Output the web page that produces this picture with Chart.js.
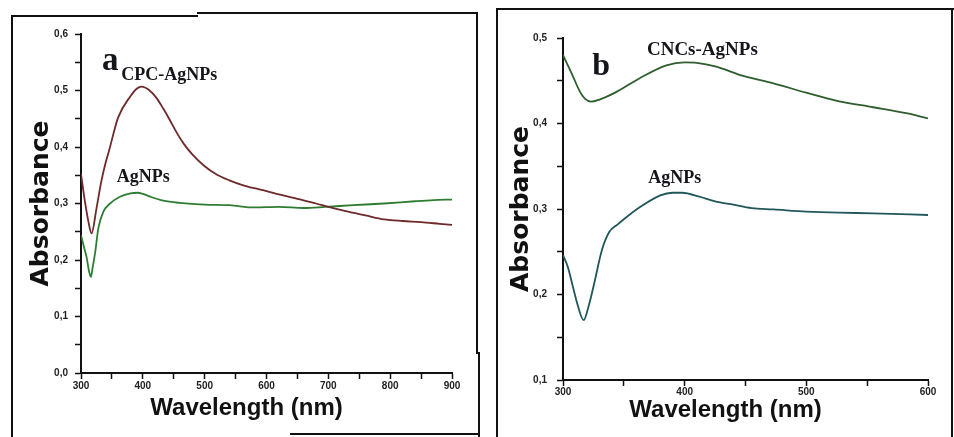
<!DOCTYPE html>
<html>
<head>
<meta charset="utf-8">
<script src="https://cdn.jsdelivr.net/npm/chart.js@4.4.1/dist/chart.umd.min.js"></script>
<style>
  html, body { margin: 0; padding: 0; background: #fff; }
  #page { position: relative; width: 954px; height: 437px; overflow: hidden; background: #fff; }
  canvas { position: absolute; top: 0; }
  .ln { position: absolute; background: #111; }
</style>
</head>
<body>
<div id="page">
  <canvas id="chartA" width="480" height="437" style="left:0"></canvas>
  <canvas id="chartB" width="474" height="437" style="left:480px"></canvas>
  <!-- frame around panel a -->
  <div class="ln" style="left:11px;top:15px;width:2px;height:422px"></div>
  <div class="ln" style="left:11px;top:15px;width:187px;height:2px"></div>
  <div class="ln" style="left:197px;top:12px;width:281px;height:2px"></div>
  <div class="ln" style="left:476px;top:12px;width:2px;height:342px"></div>
  <div class="ln" style="left:478px;top:352px;width:2px;height:85px"></div>
  <div class="ln" style="left:290px;top:433px;width:190px;height:2px"></div>
  <!-- frame around panel b -->
  <div class="ln" style="left:496px;top:8px;width:2px;height:429px"></div>
  <div class="ln" style="left:496px;top:8px;width:458px;height:2px"></div>
  <div class="ln" style="left:951px;top:8px;width:2px;height:429px"></div>
</div>
<script>
// panel a : wavelengths (nm) and absorbance
const cpcWl  = [300,306,312,317,325,333,340,345,360,380,390,398,410,422,433,444,455,466,480,500,520,540,560,580,600,620,650,680,700,730,760,790,820,850,880,900];
const cpcAbs = [0.352,0.306,0.268,0.247,0.291,0.340,0.373,0.392,0.452,0.490,0.503,0.507,0.501,0.487,0.468,0.447,0.425,0.406,0.387,0.366,0.351,0.341,0.333,0.327,0.322,0.316,0.308,0.300,0.294,0.286,0.279,0.272,0.269,0.267,0.264,0.262];
const agAWl  = [300,305,309,313,316,319,323,328,336,347,363,380,392,400,412,433,460,500,540,580,620,660,695,740,790,840,870,900];
const agAAbs = [0.244,0.222,0.205,0.180,0.170,0.188,0.214,0.256,0.285,0.300,0.312,0.318,0.319,0.317,0.312,0.305,0.301,0.298,0.297,0.293,0.294,0.292,0.294,0.297,0.300,0.304,0.306,0.307];

// panel b
const cncWl  = [300,307,314,318,323,330,344,363,385,400,410,426,445,473,500,527,555,582,600];
const cncAbs = [0.480,0.459,0.437,0.429,0.4255,0.428,0.437,0.453,0.468,0.4715,0.471,0.4665,0.457,0.447,0.436,0.426,0.419,0.412,0.406];
const agBWl  = [300,304,308,312,317,321,325,332,338,345,350,363,380,390,398,412,425,440,455,473,500,527,555,600];
const agBAbs = [0.246,0.232,0.210,0.188,0.170,0.186,0.209,0.252,0.273,0.282,0.288,0.302,0.316,0.319,0.319,0.3145,0.309,0.305,0.301,0.2995,0.297,0.2957,0.295,0.293];

// tick labels
const xTicksA = ['300','400','500','600','700','800','900'];
const yTicksA = ['0,0','0,1','0,2','0,3','0,4','0,5','0,6'];
const xTicksB = ['300','400','500','600'];
const yTicksB = ['0,1','0,2','0,3','0,4','0,5'];

const toPts = (xs, ys) => xs.map((v, i) => ({ x: v, y: ys[i] }));

// text written next to the curves, placed in data units
const curveLabels = {
  id: 'curveLabels',
  afterDatasetsDraw(chart, args, opts) {
    const { ctx, scales: { x, y } } = chart;
    ctx.save();
    ctx.fillStyle = '#15151c';
    ctx.textBaseline = 'alphabetic';
    (opts.items || []).forEach(it => {
      ctx.font = 'bold ' + it.size + 'px "Liberation Serif", "Times New Roman", serif';
      ctx.fillText(it.text, x.getPixelForValue(it.x), y.getPixelForValue(it.y));
    });
    ctx.restore();
  }
};

function axes(o) {
  return {
    x: {
      type: 'linear', min: o.xMin, max: o.xMax,
      afterFit: s => { s.height = o.xH; },
      border: { display: true, color: '#111', width: 2 },
      grid: { drawOnChartArea: false, drawTicks: true, tickLength: 6, tickWidth: 1.5, tickColor: '#111' },
      ticks: {
        stepSize: 50, autoSkip: false, maxRotation: 0, padding: o.xPad, color: '#222',
        font: { family: '"Liberation Sans Narrow", "Liberation Sans", Arial', size: 10, weight: 'bold' },
        callback: v => { const k = Math.round((v - o.xMin) / 50); return k % 2 === 0 ? o.xLabels[k / 2] : ''; }
      },
      title: {
        // trailing spaces nudge the centred title a little left, as in the figure
        display: true, text: 'Wavelength (nm)      ', color: '#111',
        font: { family: '"Liberation Sans", Arial', size: 24, weight: 'bold' },
        padding: { top: 0, bottom: o.xTitlePad }
      }
    },
    y: {
      type: 'linear', min: o.yMin, max: o.yMax,
      afterFit: s => { s.width = o.yW; },
      border: { display: true, color: '#111', width: 2 },
      grid: { drawOnChartArea: false, drawTicks: true, tickLength: 6, tickWidth: 1.5, tickColor: '#111' },
      ticks: {
        stepSize: 0.05, autoSkip: false, padding: o.yPad, color: '#222',
        font: { family: '"Liberation Sans", Arial', size: 10, weight: 'bold' },
        callback: v => { const k = Math.round((v - o.yMin) * 20); return k % 2 === 0 ? o.yLabels[k / 2] : ''; }
      },
      title: {
        display: true, text: 'Absorbance', color: '#111',
        font: { family: '"DejaVu Sans", sans-serif', size: 25, weight: 'bold' },
        padding: { top: 26, bottom: 0 }
      }
    }
  };
}

document.addEventListener('DOMContentLoaded', () => {
  const common = {
    responsive: false,
    animation: false,
    events: [],
    elements: { point: { radius: 0 }, line: { borderWidth: 1.8, cubicInterpolationMode: 'monotone' } }
  };

  // panel a
  new Chart(document.getElementById('chartA'), {
    type: 'line',
    data: {
      datasets: [
        { label: 'CPC-AgNPs', data: toPts(cpcWl, cpcAbs), borderColor: '#6e2a2a' },
        { label: 'AgNPs', data: toPts(agAWl, agAAbs), borderColor: '#2f7d32' }
      ]
    },
    options: Object.assign({}, common, {
      layout: { padding: { left: 0, top: 34, right: 28, bottom: 0 } },
      scales: axes({ xMin: 300, xMax: 900, yMin: 0, yMax: 0.6, xH: 64, yW: 81, xPad: 1, yPad: 7, xTitlePad: 14,
                     xLabels: xTicksA, yLabels: yTicksA }),
      plugins: {
        legend: { display: false }, tooltip: { enabled: false },
        curveLabels: { items: [
          { text: 'a', x: 334, y: 0.536, size: 33 },
          { text: 'CPC-AgNPs', x: 365, y: 0.519, size: 18 },
          { text: 'AgNPs', x: 358, y: 0.338, size: 18 }
        ] }
      }
    }),
    plugins: [curveLabels]
  });

  // panel b
  new Chart(document.getElementById('chartB'), {
    type: 'line',
    data: {
      datasets: [
        { label: 'CNCs-AgNPs', data: toPts(cncWl, cncAbs), borderColor: '#2e5e2e' },
        { label: 'AgNPs', data: toPts(agBWl, agBAbs), borderColor: '#22575a' }
      ]
    },
    options: Object.assign({}, common, {
      layout: { padding: { left: 0, top: 38, right: 26, bottom: 0 } },
      scales: axes({ xMin: 300, xMax: 600, yMin: 0.1, yMax: 0.5, xH: 57, yW: 83, xPad: 0, yPad: 10, xTitlePad: 12,
                     xLabels: xTicksB, yLabels: yTicksB }),
      plugins: {
        legend: { display: false }, tooltip: { enabled: false },
        curveLabels: { items: [
          { text: 'b', x: 324, y: 0.457, size: 32 },
          { text: 'CNCs-AgNPs', x: 369, y: 0.480, size: 19 },
          { text: 'AgNPs', x: 370, y: 0.330, size: 18 }
        ] }
      }
    }),
    plugins: [curveLabels]
  });
});
</script>
</body>
</html>
